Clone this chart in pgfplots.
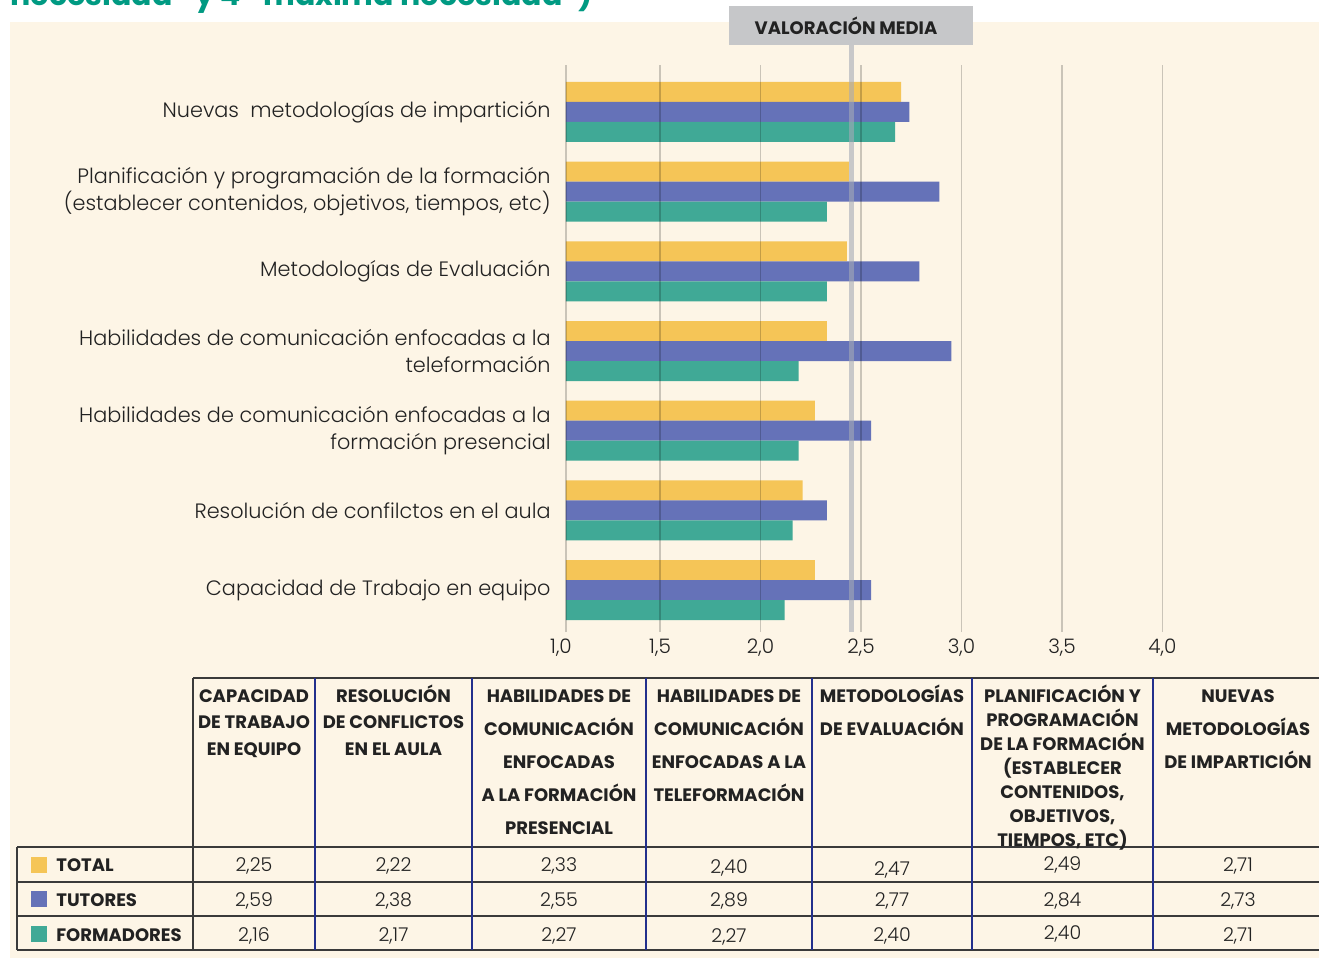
\documentclass[border=0pt]{standalone}
\usepackage{fontspec}
\setmainfont{Poppins}[UprightFont=* Light, BoldFont=* Bold]
\usepackage{pgfplots}
\pgfplotsset{compat=1.18}
\definecolor{cY}{HTML}{F5C557}
\definecolor{cB}{HTML}{6572B8}
\definecolor{cG}{HTML}{40A996}
\definecolor{bgc}{HTML}{FDF5E6}
\definecolor{boxc}{HTML}{C6C7C9}
\definecolor{meanc}{RGB}{165,170,182}
\definecolor{titc}{HTML}{009A82}
\definecolor{txt}{HTML}{222222}
\definecolor{rulec}{HTML}{3A3A3A}
\definecolor{colc}{HTML}{23308C}
\newcommand{\hdr}[3]{\node[anchor=base, inner sep=0pt, text=txt] at (#1pt,-351pt) {\parbox[t]{150pt}{\centering\fontsize{9}{#2}\selectfont\bfseries #3}};}
\newcommand{\val}[3]{\node[anchor=base, inner sep=0pt, text=txt, font=\fontsize{9.5}{11}\selectfont] at (#1pt,#2pt) {#3};}
\begin{document}
\begin{tikzpicture}
\useasboundingbox (0pt,0pt) rectangle (659.5pt,-479pt);
\fill[bgc] (5pt,-11pt) rectangle (659.5pt,-479pt);
\node[anchor=base west, inner sep=0pt, text=titc, font=\bfseries\fontsize{15}{17}\selectfont] at (5pt,-2.5pt) {necesidad" y 4 "máxima necesidad")};
\fill[boxc] (364.5pt,-3pt) rectangle (486.5pt,-22.5pt);
\node[inner sep=0pt, text=txt, font=\bfseries\fontsize{9}{11}\selectfont] at (423pt,-12.75pt) {VALORACIÓN MEDIA};
% table lines
\draw[rulec, line width=1pt] (96.5pt,-339pt) -- (659.5pt,-339pt);
\draw[rulec, line width=1pt] (8.5pt,-423.5pt) -- (659.5pt,-423.5pt);
\draw[rulec, line width=1pt] (8.5pt,-441pt) -- (659.5pt,-441pt);
\draw[rulec, line width=1pt] (8.5pt,-458pt) -- (659.5pt,-458pt);
\draw[rulec, line width=1pt] (8.5pt,-475pt) -- (659.5pt,-475pt);
\draw[rulec, line width=1pt] (8.5pt,-423.5pt) -- (8.5pt,-475pt);
\draw[rulec, line width=1pt] (96.5pt,-339pt) -- (96.5pt,-475pt);
\foreach \xx in {157.5,236,323,406,486,576.5}{\draw[colc, line width=0.75pt] (\xx pt,-339pt) -- (\xx pt,-475pt);}
% headers
\hdr{127}{13.25}{CAPACIDAD\\DE TRABAJO\\EN EQUIPO}
\hdr{196.75}{13.25}{RESOLUCIÓN\\DE CONFLICTOS\\EN EL AULA}
\hdr{279.5}{16.5}{HABILIDADES DE\\COMUNICACIÓN\\ENFOCADAS\\A LA FORMACIÓN\\PRESENCIAL}
\hdr{364.5}{16.5}{HABILIDADES DE\\COMUNICACIÓN\\ENFOCADAS A LA\\TELEFORMACIÓN}
\hdr{446}{16.5}{METODOLOGÍAS\\DE EVALUACIÓN}
\hdr{531.25}{12}{PLANIFICACIÓN Y\\PROGRAMACIÓN\\DE LA FORMACIÓN\\(ESTABLECER\\CONTENIDOS,\\OBJETIVOS,\\TIEMPOS, ETC)}
\hdr{619}{16.5}{NUEVAS\\METODOLOGÍAS\\DE IMPARTICIÓN}
% row labels
\fill[cY] (15.5pt,-428.5pt) rectangle (23.5pt,-436.5pt);
\fill[cB] (15.5pt,-445.5pt) rectangle (23.5pt,-453.5pt);
\fill[cG] (15.5pt,-463pt) rectangle (23.5pt,-471pt);
\node[anchor=base west, inner sep=0pt, text=txt, font=\bfseries\fontsize{9}{11}\selectfont] at (28pt,-435.5pt) {TOTAL};
\node[anchor=base west, inner sep=0pt, text=txt, font=\bfseries\fontsize{9}{11}\selectfont] at (28pt,-453pt) {TUTORES};
\node[anchor=base west, inner sep=0pt, text=txt, font=\bfseries\fontsize{9}{11}\selectfont] at (28pt,-470.5pt) {FORMADORES};
% values
\val{127}{-435.5}{2,25}\val{196.75}{-435.5}{2,22}\val{279.5}{-435.5}{2,33}\val{364.5}{-436.5}{2,40}\val{446}{-437.5}{2,47}\val{531.25}{-435}{2,49}\val{619}{-435.5}{2,71}
\val{127}{-453}{2,59}\val{196.75}{-453}{2,38}\val{279.5}{-453}{2,55}\val{364.5}{-453}{2,89}\val{446}{-453}{2,77}\val{531.25}{-453}{2,84}\val{619}{-453}{2,73}
\val{127}{-470.5}{2,16}\val{196.75}{-470.5}{2,17}\val{279.5}{-470.5}{2,27}\val{364.5}{-471}{2,27}\val{446}{-470.5}{2,40}\val{531.25}{-469.5}{2,40}\val{619}{-470.5}{2,71}
\begin{axis}[
  at={(283pt,-316pt)}, anchor=south west, scale only axis,
  width=298.25pt, height=283.5pt,
  xmin=1.032, xmax=4, ymin=-0.527, ymax=6.59,
  xbar, bar width=10pt,
  axis line style={draw=none}, major tick length=0pt,
  xtick={1.5,2,2.5,3,3.5,4},
  extra x ticks={1.032}, extra x tick labels={1{,}0},
  extra x tick style={grid=major, xticklabel style={xshift=-2.5pt}},
  xmajorgrids, grid style={black, opacity=0.2, line width=0.75pt},
  axis on top, clip mode=individual,
  ytick={0,1,2,3,4,5,6},
  yticklabels={
    {Capacidad de Trabajo en equipo},
    {Resolución de confilctos en el aula},
    {Habilidades de comunicación enfocadas a la\\formación presencial},
    {Habilidades de comunicación enfocadas a la\\teleformación},
    {Metodologías de Evaluación},
    {Planificación y programación de la formación\\(establecer contenidos, objetivos, tiempos, etc)},
    {Nuevas\ \ metodologías de impartición}},
  yticklabel style={font=\fontsize{10.4}{13.8}\selectfont, align=right, text=txt, inner sep=0pt, xshift=-7.5pt},
  xticklabel style={font=\fontsize{10}{12}\selectfont, text=txt, anchor=center, inner sep=0pt, yshift=-8pt},
  /pgf/number format/.cd, use comma, fixed, fixed zerofill, precision=1, assume math mode=true,
]
\addplot[fill=cY, draw=none, bar shift=10pt] coordinates {(2.27,0) (2.21,1) (2.27,2) (2.33,3) (2.43,4) (2.44,5) (2.70,6)};
\addplot[fill=cB, draw=none, bar shift=0pt] coordinates {(2.55,0) (2.33,1) (2.55,2) (2.95,3) (2.79,4) (2.89,5) (2.74,6)};
\addplot[fill=cG, draw=none, bar shift=-10pt] coordinates {(2.12,0) (2.16,1) (2.19,2) (2.19,3) (2.33,4) (2.33,5) (2.67,6)};
\draw[meanc, opacity=0.6, line width=2.7pt] (axis cs:2.453,-0.527) -- (axis cs:2.453,6.84);
\end{axis}
\end{tikzpicture}
\end{document}
